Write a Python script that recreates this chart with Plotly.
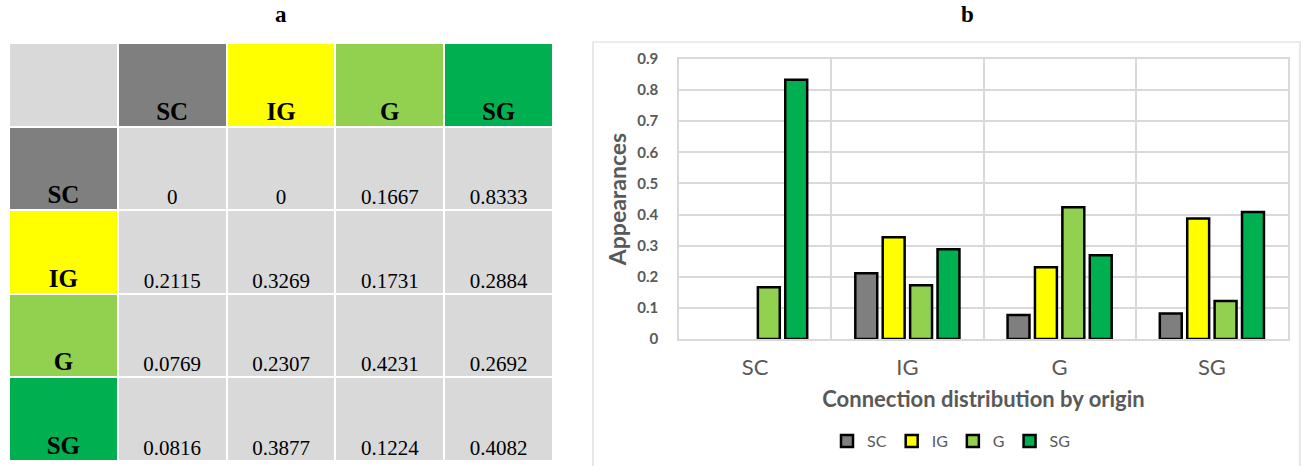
import plotly.graph_objects as go

# ---------------- data ----------------
categories = ["SC", "IG", "G", "SG"]
sc_vals = [0, 0.2115, 0.0769, 0.0816]
ig_vals = [0, 0.3269, 0.2307, 0.3877]
g_vals = [0.1667, 0.1731, 0.4231, 0.1224]
sg_vals = [0.8333, 0.2884, 0.2692, 0.4082]
y_ticks = [0, 0.1, 0.2, 0.3, 0.4, 0.5, 0.6, 0.7, 0.8, 0.9]

series_vals = [sc_vals, ig_vals, g_vals, sg_vals]
colors = ["#7f7f7f", "#ffff00", "#92d050", "#00b050"]
cell_gray = "#d9d9d9"

W, H = 1301, 466

def px_x(p):
    return p / W

def px_y(p):
    return 1 - p / H

fig = go.Figure()

# ---------------- panel a: table as heatmap ----------------
n = len(categories) + 1
z = []
for r in range(n):
    row = []
    for c in range(n):
        if r == 0 and c > 0:
            row.append(c)
        elif c == 0 and r > 0:
            row.append(r)
        else:
            row.append(0)
    z.append(row)

scale_cols = [cell_gray] + colors
cs = []
for i, col in enumerate(scale_cols):
    cs.append([i / len(scale_cols), col])
    cs.append([(i + 1) / len(scale_cols), col])

fig.add_trace(go.Heatmap(
    z=z, x=list(range(n)), y=list(range(n)),
    colorscale=cs, zmin=-0.5, zmax=len(scale_cols) - 0.5,
    showscale=False, xgap=2, ygap=2, hoverinfo="skip",
    xaxis="x", yaxis="y",
))

# header labels (bold)
hx, hy, ht = [], [], []
for i, cat in enumerate(categories):
    hx.append(i + 1); hy.append(0.5); ht.append(f"<b>{cat}</b>")
    hx.append(0); hy.append(i + 1.5); ht.append(f"<b>{cat}</b>")
fig.add_trace(go.Scatter(
    x=hx, y=[v - 0.01 for v in hy], text=ht, mode="text",
    textposition="top center",
    textfont=dict(family="Liberation Serif", size=25, color="black"),
    hoverinfo="skip", showlegend=False, xaxis="x", yaxis="y",
))

# numbers
nx, ny, nt = [], [], []
for r in range(len(categories)):
    for c in range(len(categories)):
        nx.append(c + 1)
        ny.append(r + 1.5)
        nt.append(f"{series_vals[c][r]:g}")
fig.add_trace(go.Scatter(
    x=nx, y=[v - 0.01 for v in ny], text=nt, mode="text",
    textposition="top center",
    textfont=dict(family="Liberation Serif", size=21, color="black"),
    hoverinfo="skip", showlegend=False, xaxis="x", yaxis="y",
))

# ---------------- panel b: grouped bar chart ----------------
for name, vals, col in zip(categories, series_vals, colors):
    fig.add_trace(go.Bar(
        x=categories, y=[v if v > 0 else None for v in vals], name=name,
        marker=dict(color=col, line=dict(color="black", width=2.5)),
        xaxis="x2", yaxis="y2",
    ))

txt_gray = "#595959"
grid_gray = "#d9d9d9"

fig.update_layout(
    width=W, height=H,
    margin=dict(l=0, r=0, t=0, b=0, pad=0),
    paper_bgcolor="white", plot_bgcolor="white",
    barmode="group", bargap=0.28, bargroupgap=0.2,
    xaxis=dict(domain=[px_x(9), px_x(553)], range=[-0.5, n - 0.5],
               visible=False, fixedrange=True, automargin=False),
    yaxis=dict(domain=[px_y(461), px_y(43)], range=[n - 0.5, -0.5],
               visible=False, fixedrange=True, automargin=False),
    xaxis2=dict(domain=[px_x(679), px_x(1288)], anchor="y2",
                tickson="boundaries", showgrid=True, gridcolor=grid_gray,
                gridwidth=1.5, ticks="", showline=True, linecolor=grid_gray,
                linewidth=1.5, mirror=True, automargin=False,
                tickfont=dict(family="Lato", size=22, color=txt_gray),
                ticklabelstandoff=8,
                title=dict(text="<b>Connection distribution by origin</b>",
                           font=dict(family="Lato", size=22, color=txt_gray),
                           standoff=12)),
    yaxis2=dict(domain=[px_y(339), px_y(59)], anchor="x2", range=[0, 0.9],
                tickvals=y_ticks, ticktext=[f"<b>{v:g}</b>" for v in y_ticks],
                showgrid=True, gridcolor=grid_gray, gridwidth=1.5,
                zeroline=False, ticks="", showline=True, linecolor=grid_gray,
                linewidth=1.5, mirror=True, automargin=False,
                tickfont=dict(family="Lato", size=15, color=txt_gray),
                ticklabelstandoff=16,
                title=dict(text="<b>Appearances</b>",
                           font=dict(family="Lato", size=23, color=txt_gray),
                           standoff=4)),
    legend=dict(orientation="h", x=px_x(951), y=px_y(441),
                xanchor="center", yanchor="middle",
                font=dict(family="Lato", size=16, color=txt_gray),
                itemwidth=30, tracegroupgap=0),
    shapes=[dict(type="rect", xref="paper", yref="paper",
                 x0=px_x(593), x1=px_x(1300), y0=px_y(470), y1=px_y(42),
                 line=dict(color=grid_gray, width=1.2), fillcolor="rgba(0,0,0,0)",
                 layer="below")],
    annotations=[
        dict(text="<b>a</b>", x=px_x(281), y=px_y(15), xref="paper", yref="paper",
             showarrow=False, xanchor="center", yanchor="middle",
             font=dict(family="Liberation Serif", size=23, color="black")),
        dict(text="<b>b</b>", x=px_x(967), y=px_y(15), xref="paper", yref="paper",
             showarrow=False, xanchor="center", yanchor="middle",
             font=dict(family="Liberation Serif", size=23, color="black")),
    ],
)

fig.write_html("out.html",
               config={"displayModeBar": False},
               post_script="document.body.style.margin='0px';")
